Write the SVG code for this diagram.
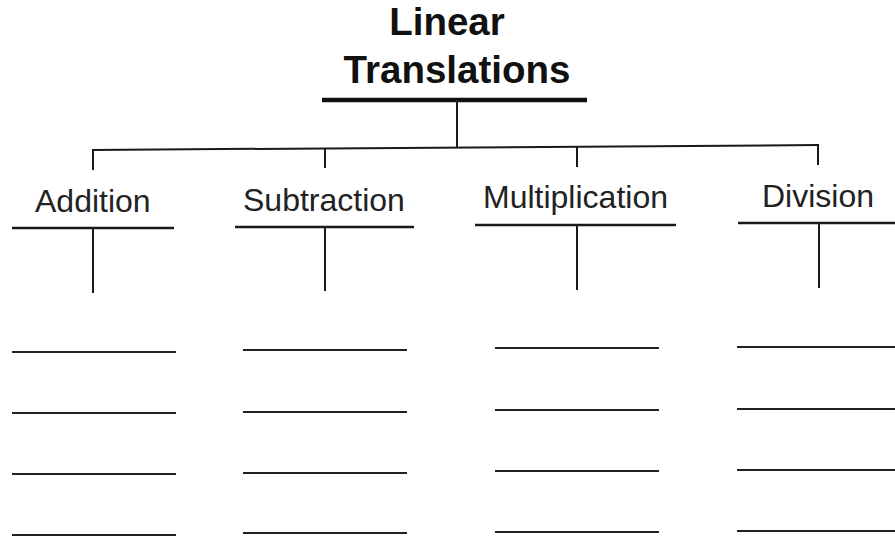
<svg xmlns="http://www.w3.org/2000/svg" width="895" height="541" viewBox="0 0 895 541">
  <style>
    .title { font-family: "Liberation Sans", Arial, sans-serif; font-weight: bold; font-size: 38.5px; fill: #111; text-anchor: middle; }
    .label { font-family: "Liberation Sans", Arial, sans-serif; font-size: 32px; fill: #222; }
    .ln { stroke: #1a1a1a; stroke-width: 2; fill: none; }
    .rule { stroke: #1a1a1a; stroke-width: 2.5; fill: none; }
    .blank { stroke: #222; stroke-width: 2.2; fill: none; }
  </style>
  <rect width="895" height="541" fill="#ffffff"/>

  <!-- root heading -->
  <g id="root">
    <text class="title" x="447" y="35">Linear</text>
    <text class="title" x="457" y="83">Translations</text>
    <line x1="322" y1="100" x2="587" y2="100" stroke="#111" stroke-width="4.5"/>
  </g>

  <!-- category headings with their answer lines -->
  <g id="addition">
    <text class="label" x="35" y="212">Addition</text>
    <line class="rule" x1="12" y1="228" x2="174" y2="228"/>
    <line class="blank" x1="12" y1="352" x2="176" y2="352"/>
    <line class="blank" x1="12" y1="413" x2="176" y2="413"/>
    <line class="blank" x1="12" y1="474" x2="176" y2="474"/>
    <line class="blank" x1="12" y1="535" x2="176" y2="535"/>
  </g>
  <g id="subtraction">
    <text class="label" x="243" y="211">Subtraction</text>
    <line class="rule" x1="235" y1="227" x2="414" y2="227"/>
    <line class="blank" x1="243" y1="350" x2="407" y2="350"/>
    <line class="blank" x1="243" y1="412" x2="407" y2="412"/>
    <line class="blank" x1="243" y1="473" x2="407" y2="473"/>
    <line class="blank" x1="243" y1="533" x2="407" y2="533"/>
  </g>
  <g id="multiplication">
    <text class="label" x="483" y="208">Multiplication</text>
    <line class="rule" x1="475" y1="225" x2="676" y2="225"/>
    <line class="blank" x1="495" y1="348" x2="659" y2="348"/>
    <line class="blank" x1="495" y1="410" x2="659" y2="410"/>
    <line class="blank" x1="495" y1="471" x2="659" y2="471"/>
    <line class="blank" x1="495" y1="532" x2="659" y2="532"/>
  </g>
  <g id="division">
    <text class="label" x="762" y="207">Division</text>
    <line class="rule" x1="738" y1="223" x2="895" y2="223"/>
    <line class="blank" x1="737" y1="347" x2="895" y2="347"/>
    <line class="blank" x1="737" y1="409" x2="895" y2="409"/>
    <line class="blank" x1="737" y1="470" x2="895" y2="470"/>
    <line class="blank" x1="737" y1="531" x2="895" y2="531"/>
  </g>

  <!-- tree connectors -->
  <g id="connectors">
    <line class="ln" x1="457" y1="100" x2="457" y2="147"/>
    <line class="ln" x1="92" y1="150" x2="819" y2="145"/>
    <line class="ln" x1="93" y1="150" x2="93" y2="170"/>
    <line class="ln" x1="325" y1="148" x2="325" y2="168"/>
    <line class="ln" x1="577" y1="146" x2="577" y2="167"/>
    <line class="ln" x1="818" y1="145" x2="818" y2="165"/>
    <line class="ln" x1="93" y1="228" x2="93" y2="293"/>
    <line class="ln" x1="325" y1="227" x2="325" y2="291"/>
    <line class="ln" x1="577" y1="225" x2="577" y2="290"/>
    <line class="ln" x1="819" y1="223" x2="819" y2="288"/>
  </g>
</svg>
